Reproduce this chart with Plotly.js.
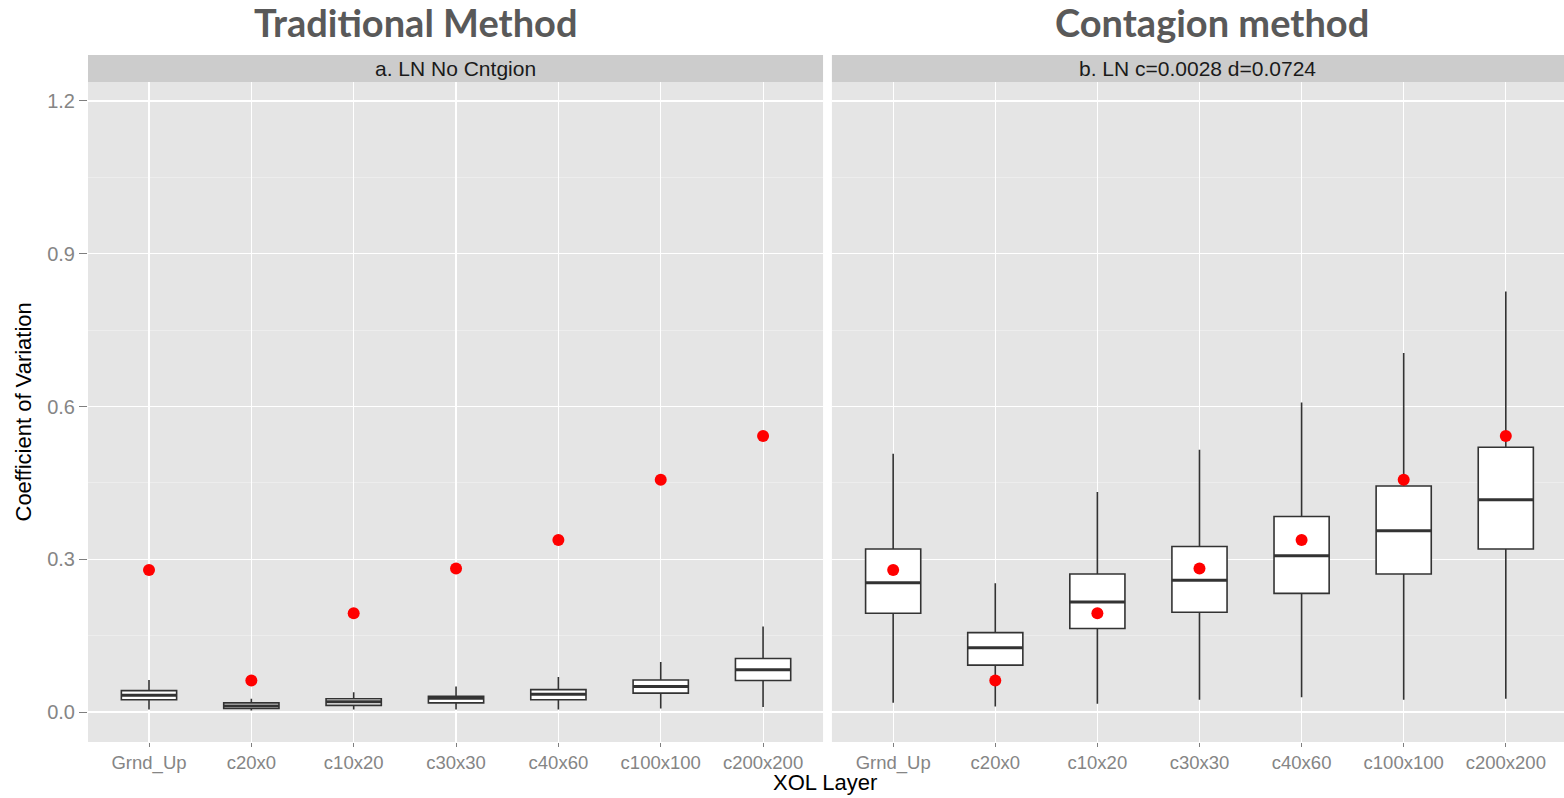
<!DOCTYPE html>
<html>
<head>
<meta charset="utf-8">
<script src="https://cdn.plot.ly/plotly-3.0.1.min.js"></script>
<style>
  html, body { margin: 0; padding: 0; background: #ffffff; overflow: hidden; }
  #chart { width: 1564px; height: 798px; }
</style>
</head>
<body>
<div id="chart"></div>
<script>
// XOL layers on the x axis
const layers = ["Grnd_Up", "c20x0", "c10x20", "c30x30", "c40x60", "c100x100", "c200x200"];

// Panel a: lognormal, no contagion (box statistics of the simulated CV)
const tradLower  = [0.005, 0.003, 0.005, 0.005, 0.005, 0.007, 0.010];
const tradQ1     = [0.024, 0.007, 0.013, 0.018, 0.024, 0.037, 0.062];
const tradMedian = [0.033, 0.012, 0.020, 0.027, 0.035, 0.050, 0.083];
const tradQ3     = [0.042, 0.018, 0.026, 0.031, 0.044, 0.063, 0.105];
const tradUpper  = [0.063, 0.026, 0.039, 0.050, 0.069, 0.098, 0.168];

// Panel b: lognormal with contagion c=0.0028, d=0.0724
const contLower  = [0.018, 0.011, 0.016, 0.024, 0.029, 0.024, 0.026];
const contQ1     = [0.194, 0.092, 0.164, 0.196, 0.233, 0.271, 0.320];
const contMedian = [0.254, 0.126, 0.216, 0.259, 0.307, 0.356, 0.417];
const contQ3     = [0.320, 0.156, 0.271, 0.325, 0.384, 0.444, 0.520];
const contUpper  = [0.507, 0.253, 0.432, 0.515, 0.608, 0.705, 0.826];

// Analytical CV of each layer (red points, same in both panels)
const layerCV = [0.279, 0.062, 0.194, 0.282, 0.338, 0.456, 0.542];

const yTicks = [0.0, 0.3, 0.6, 0.9, 1.2];
const yTickText = ["0.0", "0.3", "0.6", "0.9", "1.2"];

const xPos = layers.map((_, i) => i + 1);
const boxWidth = 0.54;
const boxLine = "#333333";
const sans = "Liberation Sans, Arial, sans-serif";

function boxTrace(q1, med, q3, lo, hi, xa, ya) {
  return {
    type: "box", xaxis: xa, yaxis: ya,
    x: xPos, q1: q1, median: med, q3: q3, lowerfence: lo, upperfence: hi,
    width: boxWidth, whiskerwidth: 0, boxpoints: false,
    fillcolor: "#ffffff", line: { color: boxLine, width: 1.6 },
    hoverinfo: "skip", showlegend: false
  };
}

// Thicker median bars, built from the median arrays
function medianTrace(med, xa, ya) {
  const xs = [], ys = [];
  med.forEach((m, i) => {
    xs.push(xPos[i] - boxWidth / 2, xPos[i] + boxWidth / 2, null);
    ys.push(m, m, null);
  });
  return {
    type: "scatter", mode: "lines", xaxis: xa, yaxis: ya,
    x: xs, y: ys, line: { color: boxLine, width: 3 },
    hoverinfo: "skip", showlegend: false
  };
}

function pointTrace(xa, ya) {
  return {
    type: "scatter", mode: "markers", xaxis: xa, yaxis: ya,
    x: xPos, y: layerCV,
    marker: { color: "#FF0000", size: 12 },
    hoverinfo: "skip", showlegend: false
  };
}

const data = [
  boxTrace(tradQ1, tradMedian, tradQ3, tradLower, tradUpper, "x", "y"),
  medianTrace(tradMedian, "x", "y"),
  pointTrace("x", "y"),
  boxTrace(contQ1, contMedian, contQ3, contLower, contUpper, "x2", "y2"),
  medianTrace(contMedian, "x2", "y2"),
  pointTrace("x2", "y2")
];

function xAxis(domain, range) {
  return {
    domain: domain, range: range, anchor: domain[0] === 0 ? "y" : "y2",
    tickmode: "array", tickvals: xPos, ticktext: layers,
    ticks: "outside", ticklen: 4, tickwidth: 1, tickcolor: "#7F7F7F",
    tickfont: { family: sans, size: 18.5, color: "#858585" },
    showgrid: true, gridcolor: "#ffffff", gridwidth: 1.1,
    zeroline: false, showline: false, fixedrange: true
  };
}

const yRange = [-0.0589, 1.2373];
const minorGrid = { dtick: 0.15, tick0: 0.15, showgrid: true, gridcolor: "#F2F2F2", gridwidth: 0.6 };

const layout = {
  width: 1564, height: 798,
  margin: { l: 88, r: 0, t: 82, b: 56 },
  paper_bgcolor: "#ffffff", plot_bgcolor: "#E5E5E5",
  font: { family: sans },
  showlegend: false,
  xaxis: xAxis([0, 0.498], [0.404, 7.586]),
  xaxis2: xAxis([0.504, 1], [0.4, 7.57]),
  yaxis: {
    domain: [0, 1], range: yRange, anchor: "x",
    tickmode: "array", tickvals: yTicks, ticktext: yTickText,
    ticks: "outside", ticklen: 8, tickwidth: 1, tickcolor: "#7F7F7F",
    tickfont: { family: sans, size: 20, color: "#858585" },
    showgrid: true, gridcolor: "#ffffff", gridwidth: 1.1,
    minor: minorGrid,
    zeroline: false, showline: false, fixedrange: true
  },
  yaxis2: {
    domain: [0, 1], range: yRange, anchor: "x2", matches: "y",
    tickmode: "array", tickvals: yTicks, showticklabels: false, ticks: "",
    showgrid: true, gridcolor: "#ffffff", gridwidth: 1.1,
    minor: minorGrid,
    zeroline: false, showline: false, fixedrange: true
  },
  shapes: [
    { type: "rect", xref: "x domain", yref: "paper", x0: 0, x1: 1, y0: 1.0, y1: 1.0409,
      fillcolor: "#CCCCCC", line: { width: 0 } },
    { type: "rect", xref: "x2 domain", yref: "paper", x0: 0, x1: 1, y0: 1.0, y1: 1.0409,
      fillcolor: "#CCCCCC", line: { width: 0 } }
  ],
  annotations: [
    { text: "a. LN No Cntgion", xref: "x domain", yref: "paper", x: 0.5, y: 1.0205,
      xanchor: "center", yanchor: "middle", showarrow: false,
      font: { size: 21, color: "#1A1A1A" } },
    { text: "b. LN c=0.0028 d=0.0724", xref: "x2 domain", yref: "paper", x: 0.5, y: 1.0205,
      xanchor: "center", yanchor: "middle", showarrow: false,
      font: { size: 21, color: "#1A1A1A" } },
    { text: "<b>Traditional Method</b>", xref: "paper", yref: "paper", x: 0.2222, y: 1.0909,
      xanchor: "center", yanchor: "middle", showarrow: false,
      font: { family: "Lato, Open Sans, sans-serif", size: 38, color: "#595959" } },
    { text: "<b>Contagion method</b>", xref: "paper", yref: "paper", x: 0.7615, y: 1.0909,
      xanchor: "center", yanchor: "middle", showarrow: false,
      font: { family: "Lato, Open Sans, sans-serif", size: 38, color: "#595959" } },
    { text: "XOL Layer", xref: "paper", yref: "paper", x: 0.4993, y: -0.0826,
      xanchor: "center", yanchor: "bottom", showarrow: false,
      font: { size: 22, color: "#000000" } },
    { text: "Coefficient of Variation", xref: "paper", yref: "paper", x: -0.0437, y: 0.5,
      xanchor: "center", yanchor: "middle", textangle: -90, showarrow: false,
      font: { size: 22, color: "#000000" } }
  ]
};

Plotly.newPlot("chart", data, layout, { displayModeBar: false, staticPlot: true });
</script>
</body>
</html>
